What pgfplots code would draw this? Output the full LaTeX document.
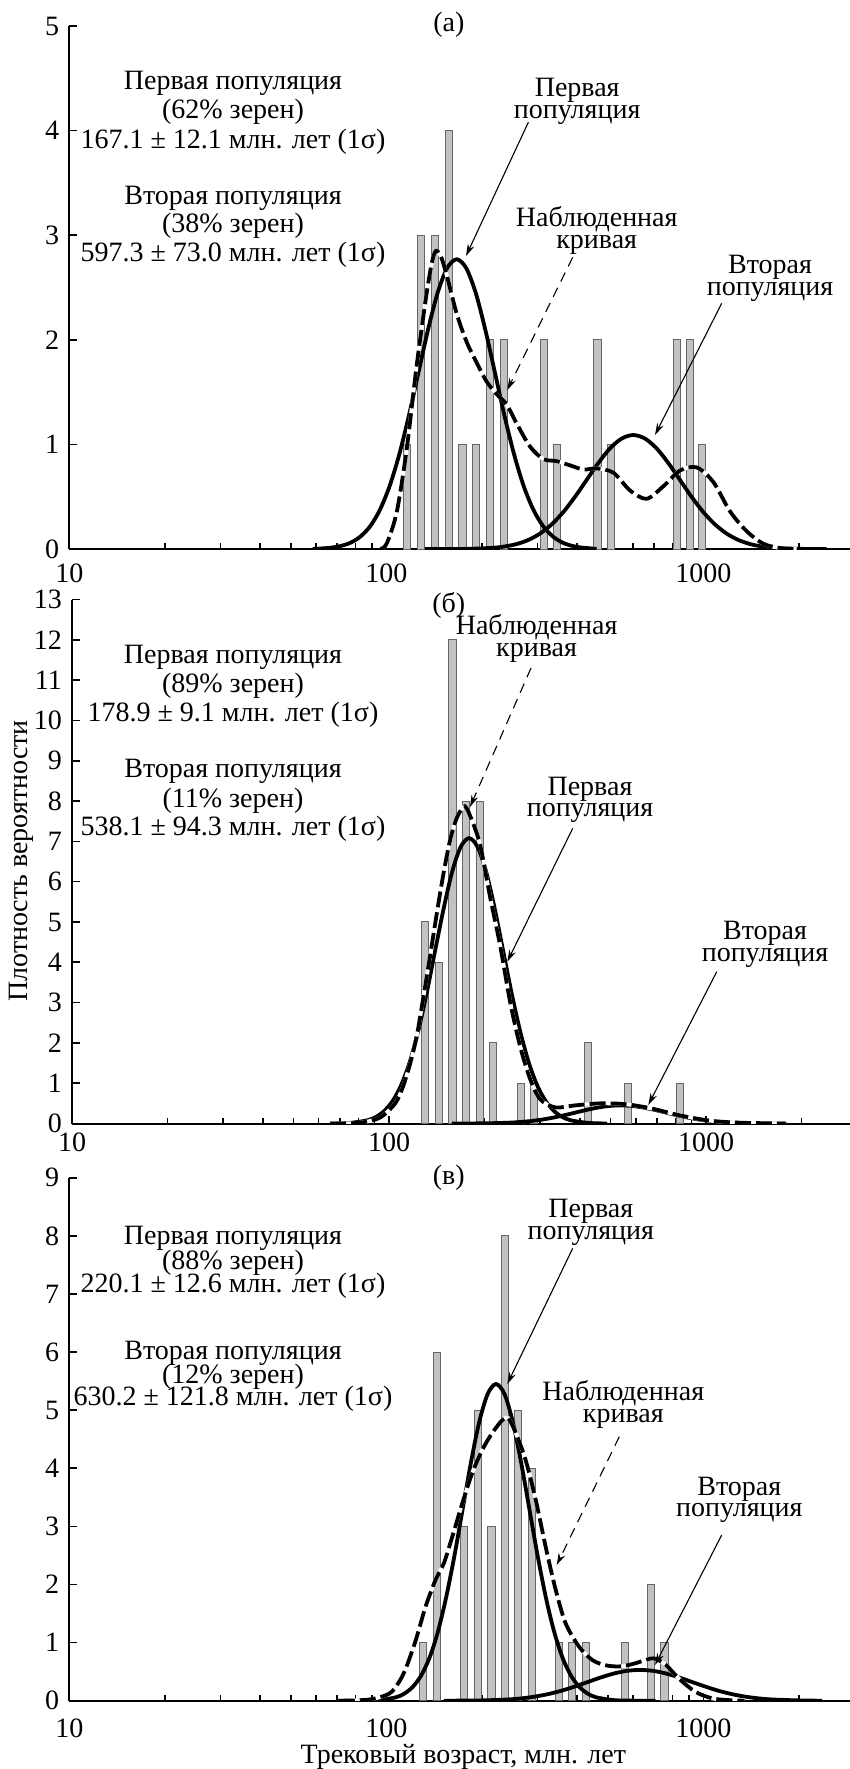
\documentclass[border=0pt]{standalone}
\usepackage{fontspec}
\setmainfont{Liberation Serif}
\usepackage{pgfplots}
\usepackage{pgfplotstable}
\pgfplotsset{compat=1.18}
\usetikzlibrary{arrows.meta}

% ---------- panel (a) ----------
\pgfplotstableread{
x y
116.5 1
129 3
142.8 3
157.9 4
174 1
192.2 1
212.7 2
234.6 2
313.7 2
346.2 1
463.7 2
512.6 1
824.5 2
907.8 2
992.7 1
}\barsA
\pgfplotstableread{
x y
58.6 0
62.86 0.006
67.4 0.014
72.25 0.031
77.47 0.063
83.06 0.122
89.05 0.220
95.46 0.375
102.35 0.599
109.74 0.899
117.65 1.268
126.15 1.680
135.23 2.091
145.0 2.445
155.46 2.685
166.7 2.77
178.7 2.685
191.6 2.445
205.4 2.091
220.3 1.680
236.1 1.268
253.2 0.899
271.4 0.599
291.0 0.375
312.0 0.220
334.5 0.122
358.6 0.063
384.5 0.031
412.3 0.014
442.0 0.006
460.3 0
}\popAa
\pgfplotstableread{
x y
132.4 0
155.2 0
183.9 0.002
217.8 0.012
237.1 0.025
257.9 0.048
280.7 0.087
305.5 0.148
332.5 0.236
361.8 0.354
393.8 0.499
428.5 0.661
466.5 0.823
507.6 0.962
552.4 1.056
601.2 1.09
654.3 1.056
712.0 0.962
775.0 0.823
843.3 0.661
918.0 0.499
998.8 0.354
1087.2 0.236
1183.0 0.148
1287.8 0.087
1401.3 0.048
1525.3 0.025
1659.6 0.012
1965.4 0.002
2449 0
}\popAb
\pgfplotstableread{
x y
95.5 0
100.2 0.05
107.8 0.35
115.9 0.95
124.6 1.75
134.1 2.45
139.5 2.75
143.4 2.85
148.5 2.8
155.0 2.62
166.7 2.25
179.2 1.98
192.8 1.78
207.3 1.60
222.9 1.48
239.7 1.38
257.7 1.20
283.9 0.98
312.8 0.86
344.5 0.84
379.7 0.80
418.3 0.76
460.8 0.77
520.1 0.73
587.1 0.56
662.5 0.48
747.8 0.60
843.9 0.75
952.8 0.78
1075.3 0.64
1213.8 0.36
1370 0.17
1546 0.05
1745 0.01
1970 0
}\obsA

% ---------- panel (b) ----------
\pgfplotstableread{
x y
130.2 5
143.8 4
158.6 12
174.7 8
193.4 8
213.1 2
260.3 1
286.7 1
425.0 2
566.1 1
829.9 1
}\barsB
\pgfplotstableread{
x y
65.5 0
75.5 0.016
85.4 0.079
90.9 0.161
96.6 0.311
102.8 0.564
109.3 0.958
116.3 1.531
123.7 2.299
131.5 3.241
139.8 4.294
148.8 5.344
158.2 6.248
168.3 6.862
178.9 7.08
190.3 6.862
202.4 6.248
215.3 5.344
228.9 4.294
243.5 3.241
259.0 2.299
275.4 1.531
292.9 0.958
311.5 0.564
331.3 0.311
352.4 0.161
374.8 0.079
423.9 0.016
487.5 0
}\popBa
\pgfplotstableread{
x y
157.9 0
201.7 0.005
237.6 0.020
257.8 0.036
279.8 0.061
303.6 0.097
329.5 0.146
357.6 0.206
388.0 0.273
421.1 0.340
456.9 0.397
495.8 0.436
538.1 0.45
583.9 0.436
633.6 0.397
687.6 0.340
746.2 0.273
809.7 0.206
878.7 0.146
953.5 0.097
1034.7 0.061
1122.8 0.036
1218.5 0.020
1434.9 0.005
1791 0
}\popBb
\pgfplotstableread{
x y
65.2 0
81.1 0.02
93.8 0.15
104.6 0.5
110.5 0.9
116.7 1.5
122.5 2.2
128.5 3.16
135 4.2
141.6 5.23
148.5 6.2
156 7.05
164 7.6
173.5 7.87
183 7.5
194 6.9
208.6 5.6
224.3 4.4
241.2 3.0
259.4 1.9
278.8 1.1
299.9 0.6
334.4 0.4
386.7 0.45
463.8 0.5
556.2 0.48
666.8 0.38
829.2 0.2
1031 0.07
1282 0.02
1780 0
}\obsB

% ---------- panel (c) ----------
\pgfplotstableread{
x y
130.8 1
144.3 6
175.8 3
194.2 5
214.7 3
236.3 8
260.9 5
287.7 4
350.5 1
386.2 1
425.5 1
567.5 1
684.6 2
754.3 1
}\barsC
\pgfplotstableread{
x y
70.4 0
84.3 0.002
95.2 0.012
107.4 0.060
114.1 0.124
121.2 0.239
128.8 0.434
136.8 0.737
145.3 1.179
154.3 1.770
164.0 2.495
174.2 3.305
185.1 4.114
196.6 4.810
208.9 5.282
221.8 5.45
235.7 5.282
250.3 4.810
265.9 4.114
282.5 3.305
300.1 2.495
318.8 1.770
338.7 1.179
359.8 0.737
382.2 0.434
406.0 0.239
431.3 0.124
458.1 0.060
517.0 0.012
583.4 0.002
707.4 0
}\popCa
\pgfplotstableread{
x y
151.8 0
201.8 0.006
244.1 0.023
268.4 0.042
295.1 0.072
324.6 0.115
356.9 0.172
392.5 0.243
431.5 0.321
474.6 0.400
521.9 0.468
574.0 0.514
631.0 0.53
693.9 0.514
762.9 0.468
839.0 0.400
922.6 0.321
1014.6 0.243
1115.6 0.172
1226.8 0.115
1349.0 0.072
1483.5 0.042
1631.3 0.023
1972.4 0.006
2371 0
}\popCb
\pgfplotstableread{
x y
70.8 0
88.2 0.02
102 0.12
109 0.3
115.1 0.55
123.8 1.04
133 1.62
143 2.08
152 2.37
161.4 2.82
173.7 3.40
186.7 3.92
200.9 4.32
216 4.61
232.3 4.83
242.7 4.86
255.9 4.61
275.1 4.14
295.9 3.46
318.1 2.65
342.1 1.91
367.9 1.33
405.4 0.93
446.5 0.70
491.9 0.61
542 0.59
597 0.63
657.7 0.70
698.9 0.73
760.6 0.62
837.9 0.38
945.8 0.15
1067.6 0.04
1205 0.01
1350 0
}\obsC

\pgfplotsset{
  every axis/.append style={
    anchor=south west, scale only axis,
    width=391.5pt,
    xmin=10, xmax=2950, ymin=0,
    axis lines=left,
    axis line style={-, line width=1pt},
    tick align=inside,
    major tick length=4pt, minor tick length=3pt,
    tick style={black, line width=0.8pt},
    xtick={10,100,1000}, xticklabels={10,100,1000},
    minor xtick={20,30,40,50,60,70,80,90,200,300,400,500,600,700,800,900,2000},
    ytick distance=1,
    yticklabel={\pgfmathprintnumber[assume math mode=true]{\tick}},
    yticklabel style={xshift=-1.5pt},
    tick label style={font=\fontsize{14}{15}\selectfont},
  },
  mybars/.style={ybar, bar width=3.6pt, fill=black!24, draw=black!60, line width=0.5pt},
  mypop/.style={black, line width=1.9pt, smooth},
  myobsbg/.style={white, line width=1.9pt, smooth},
  myobs/.style={black, line width=1.9pt, smooth, dash pattern=on 8pt off 2.5pt},
}
\tikzset{
  lead/.style={line width=0.55pt, -{Stealth[length=6pt,width=3.5pt]}},
  lbl/.style={anchor=base, inner sep=0pt},
}

\begin{document}
\begin{tikzpicture}
\path[use as bounding box] (0pt,0pt) rectangle (425pt,-884.5pt);

% (a)
\begin{semilogxaxis}[at={(34.65pt,-274.5pt)}, height=261.5pt, ymax=5,
  xticklabel style={yshift=-4.1pt}]
\addplot[mybars] table {\barsA};
\addplot[mypop] table {\popAa};
\addplot[mypop] table {\popAb};
\addplot[myobsbg] table {\obsA};
\addplot[myobs] table {\obsA};
\end{semilogxaxis}

% (b)
\begin{semilogxaxis}[at={(36pt,-561.75pt)}, height=262pt, ymax=13,
  xticklabel style={yshift=-1.2pt}]
\addplot[mybars] table {\barsB};
\addplot[mypop] table {\popBa};
\addplot[mypop] table {\popBb};
\addplot[myobsbg] table {\obsB};
\addplot[myobs] table {\obsB};
\end{semilogxaxis}

% (c)
\begin{semilogxaxis}[at={(34.65pt,-850.35pt)}, height=261.5pt, ymax=9,
  xticklabel style={yshift=-5.6pt}]
\addplot[mybars] table {\barsC};
\addplot[mypop] table {\popCa};
\addplot[mypop] table {\popCb};
\addplot[myobsbg] table {\obsC};
\addplot[myobs] table {\obsC};
\end{semilogxaxis}

\begin{scope}[x=0.5pt, y=-0.5pt, font=\fontsize{14}{15}\selectfont]
% titles
\node at (448.8,25) {(а)};
\node at (448.8,605) {(б)};
\node at (448.8,1178) {(в)};
% axis titles
\node[rotate=90] at (21.7,861) {Плотность вероятности};
\node at (463.4,1757) {Трековый возраст, млн. лет};

% (a) text
\node[lbl] at (233,89.5) {Первая популяция};
\node[lbl] at (233,118.5) {(62\% зерен)};
\node[lbl] at (233,148) {167.1 ± 12.1 млн. лет (1σ)};
\node[lbl] at (233,204.5) {Вторая популяция};
\node[lbl] at (233,232.5) {(38\% зерен)};
\node[lbl] at (233,261.5) {597.3 ± 73.0 млн. лет (1σ)};
\node[lbl] at (577.2,96) {Первая};
\node[lbl] at (577.2,118) {популяция};
\node[lbl] at (596.7,226) {Наблюденная};
\node[lbl] at (596.7,248) {кривая};
\node[lbl] at (770,273.3) {Вторая};
\node[lbl] at (770,295) {популяция};
\draw[lead] (528.4,122.2) -- (466,256);
\draw[lead, dash pattern=on 5pt off 3.5pt] (572.7,257.3) -- (507.3,390);
\draw[lead] (721.7,303.3) -- (655,435);

% (b) text
\node[lbl] at (233,663) {Первая популяция};
\node[lbl] at (233,692) {(89\% зерен)};
\node[lbl] at (233,721.5) {178.9 ± 9.1 млн. лет (1σ)};
\node[lbl] at (233,777) {Вторая популяция};
\node[lbl] at (233,807.5) {(11\% зерен)};
\node[lbl] at (233,835) {538.1 ± 94.3 млн. лет (1σ)};
\node[lbl] at (536.6,634.5) {Наблюденная};
\node[lbl] at (536.6,656.5) {кривая};
\node[lbl] at (590,795) {Первая};
\node[lbl] at (590,816.7) {популяция};
\node[lbl] at (765,939.3) {Вторая};
\node[lbl] at (765,961.7) {популяция};
\draw[lead, dash pattern=on 5pt off 3.5pt] (531,668) -- (470,807);
\draw[lead] (572.7,828.3) -- (507.3,961.7);
\draw[lead] (716.7,971.7) -- (648.3,1105);

% (c) text
\node[lbl] at (233,1244.8) {Первая популяция};
\node[lbl] at (233,1269.3) {(88\% зерен)};
\node[lbl] at (233,1292.2) {220.1 ± 12.6 млн. лет (1σ)};
\node[lbl] at (233,1359.3) {Вторая популяция};
\node[lbl] at (233,1383) {(12\% зерен)};
\node[lbl] at (233,1405.5) {630.2 ± 121.8 млн. лет (1σ)};
\node[lbl] at (590.8,1217.5) {Первая};
\node[lbl] at (590.8,1239.5) {популяция};
\node[lbl] at (623.3,1400.7) {Наблюденная};
\node[lbl] at (623.3,1422.7) {кривая};
\node[lbl] at (739.3,1495) {Вторая};
\node[lbl] at (739.3,1516.7) {популяция};
\draw[lead] (572.7,1248.3) -- (507.3,1384);
\draw[lead, dash pattern=on 5pt off 3.5pt] (619.3,1436.7) -- (556.7,1565);
\draw[lead] (721.7,1535) -- (655,1665);
\end{scope}
\end{tikzpicture}
\end{document}
